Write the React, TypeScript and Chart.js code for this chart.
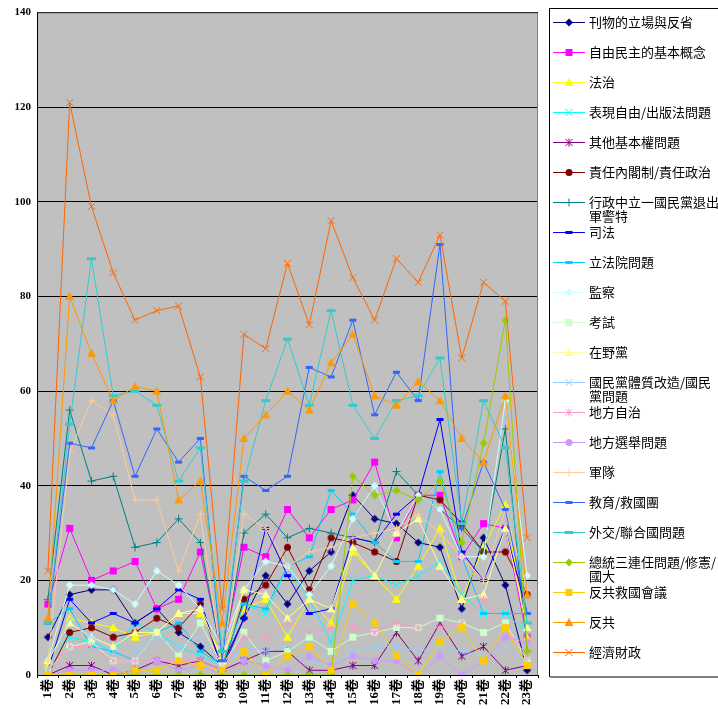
import React, { useEffect, useRef } from 'react';
import { Chart, registerables } from 'chart.js';
Chart.register(...registerables);

const categories = ['1卷','2卷','3卷','4卷','5卷','6卷','7卷','8卷','9卷','10卷','11卷','12卷','13卷','14卷','15卷','16卷','17卷','18卷','19卷','20卷','21卷','22卷','23卷'];
const yTicks = [0, 20, 40, 60, 80, 100, 120, 140];

const seriesNames = [
  '刊物的立場與反省','自由民主的基本概念','法治','表現自由/出版法問題','其他基本權問題',
  '責任內閣制/責任政治','行政中立一國民黨退出軍警特','司法','立法院問題','監察','考試','在野黨',
  '國民黨體質改造/國民黨問題','地方自治','地方選舉問題','軍隊','教育/救國團','外交/聯合國問題',
  '總統三連任問題/修憲/國大','反共救國會議','反共','經濟財政'
];
const seriesColors = [
  '#000080','#FF00FF','#FFFF00','#00FFFF','#800080','#800000','#008080','#0000FF','#00CCFF','#CCFFFF','#CCFFCC','#FFFF99',
  '#99CCFF','#FF99CC','#CC99FF','#FFCC99','#3366FF','#33CCCC','#99CC00','#FFCC00','#FF9900','#FF6600'
];
const seriesMarkers = [
  'diamond','square','triangle','x','star','circle','plus','dash','dash','diamond','square','triangle',
  'x','star','circle','plus','dash','dashWide','diamond','square','triangle','x'
];

const s01 = [8,17,18,18,11,14,9,6,2,12,21,15,22,26,38,33,32,28,27,14,29,19,1];
const s02 = [15,31,20,22,24,14,16,26,4,27,25,35,29,35,37,45,29,38,38,25,32,31,8];
const s03 = [2,12,11,10,8,9,13,13,4,14,16,8,16,11,26,21,16,23,31,16,27,36,8];
const s04 = [3,8,7,5,11,9,6,4,2,15,13,23,16,7,20,21,19,21,24,17,13,13,9];
const s05 = [0,2,2,0,1,3,2,3,1,3,5,5,1,1,2,2,9,3,11,4,6,1,2];
const s06 = [0,9,10,8,9,12,10,15,1,16,19,27,18,29,28,26,24,38,37,32,26,26,17];
const s07 = [16,56,41,42,27,28,33,28,3,30,34,29,31,30,29,28,43,38,35,31,26,52,5];
const s08 = [1,16,11,13,11,14,18,16,1,12,31,21,13,14,29,28,34,38,54,26,20,31,13];
const s09 = [11,14,6,5,3,9,11,5,2,15,14,23,25,39,34,28,24,24,43,25,13,13,13];
const s10 = [3,19,19,18,15,22,19,14,6,18,24,23,17,23,33,40,30,38,35,25,25,58,21];
const s11 = [1,6,7,3,3,9,4,11,2,9,3,5,8,5,8,9,10,10,12,11,9,11,3];
const s12 = [3,11,8,6,9,9,13,14,3,18,17,12,16,14,27,21,30,33,23,16,17,31,10];
const s13 = [1,12,8,5,5,8,6,8,1,6,5,6,3,2,5,6,6,5,6,5,4,6,3];
const s14 = [1,6,6,3,3,3,3,3,1,8,8,11,9,10,10,9,11,10,10,11,16,10,4];
const s15 = [0,1,1,1,0,3,1,2,0,3,2,1,4,2,4,3,3,0,4,0,3,8,7];
const s16 = [3,47,58,55,37,37,22,34,2,34,31,23,26,27,29,30,31,34,30,25,20,35,18];
const s17 = [11,49,48,58,42,52,45,50,3,42,39,42,65,63,75,55,64,58,91,31,45,35,13];
const s18 = [11,53,88,59,60,57,41,48,5,41,58,71,57,77,57,50,58,59,67,32,58,48,11];
const s19 = [0,0,0,0,0,0,0,0,0,0,0,0,0,0,42,38,39,37,41,28,49,75,5];
const s20 = [0,0,0,0,1,1,3,2,1,5,0,4,6,1,15,11,4,0,7,10,3,10,2];
const s21 = [12,80,68,58,61,60,37,41,11,50,55,60,56,66,72,59,57,62,58,50,45,59,17];
const s22 = [22,121,99,85,75,77,78,63,14,72,69,87,74,96,84,75,88,83,93,67,83,79,29];

const seriesData = [s01,s02,s03,s04,s05,s06,s07,s08,s09,s10,s11,s12,s13,s14,s15,s16,s17,s18,s19,s20,s21,s22];

function drawMarker(ctx: CanvasRenderingContext2D, kind: string, x: number, y: number, color: string) {
  ctx.save();
  ctx.fillStyle = color;
  ctx.strokeStyle = color;
  ctx.lineWidth = 1;
  ctx.beginPath();
  switch (kind) {
    case 'diamond':
      ctx.moveTo(x, y - 4); ctx.lineTo(x + 4, y); ctx.lineTo(x, y + 4); ctx.lineTo(x - 4, y); ctx.closePath(); ctx.fill();
      break;
    case 'square':
      ctx.fillRect(x - 3.5, y - 3.5, 7, 7);
      break;
    case 'triangle':
      ctx.moveTo(x, y - 4.5); ctx.lineTo(x + 4.5, y + 3.5); ctx.lineTo(x - 4.5, y + 3.5); ctx.closePath(); ctx.fill();
      break;
    case 'x':
      ctx.moveTo(x - 3.5, y - 3.5); ctx.lineTo(x + 3.5, y + 3.5); ctx.moveTo(x + 3.5, y - 3.5); ctx.lineTo(x - 3.5, y + 3.5); ctx.stroke();
      break;
    case 'star':
      ctx.moveTo(x - 3.5, y - 3.5); ctx.lineTo(x + 3.5, y + 3.5); ctx.moveTo(x + 3.5, y - 3.5); ctx.lineTo(x - 3.5, y + 3.5);
      ctx.moveTo(x, y - 4); ctx.lineTo(x, y + 4); ctx.stroke();
      break;
    case 'circle':
      ctx.arc(x, y, 3.5, 0, Math.PI * 2); ctx.fill();
      break;
    case 'plus':
      ctx.moveTo(x - 4, y); ctx.lineTo(x + 4, y); ctx.moveTo(x, y - 4); ctx.lineTo(x, y + 4); ctx.stroke();
      break;
    case 'dash':
      ctx.fillRect(x - 3.5, y - 1.5, 7, 3);
      break;
    case 'dashWide':
      ctx.fillRect(x - 4.5, y - 1.5, 9, 3);
      break;
  }
  ctx.restore();
}

function makeMarkerCanvas(kind: string, color: string): HTMLCanvasElement {
  const c = document.createElement('canvas');
  c.width = 11; c.height = 11;
  const ctx = c.getContext('2d')!;
  drawMarker(ctx, kind, 5.5, 5.5, color);
  return c;
}

const plotBgPlugin = {
  id: 'plotBg',
  beforeDraw(chart: any) {
    const { ctx, chartArea: a } = chart;
    ctx.save();
    ctx.fillStyle = '#C0C0C0';
    ctx.fillRect(a.left, a.top, a.right - a.left, a.bottom - a.top);
    ctx.restore();
  },
  afterDatasetsDraw(chart: any) {
    const { ctx, chartArea: a } = chart;
    ctx.save();
    ctx.strokeStyle = '#808080';
    ctx.lineWidth = 1;
    ctx.beginPath();
    ctx.moveTo(a.left, a.top + 0.5); ctx.lineTo(a.right - 0.5, a.top + 0.5); ctx.lineTo(a.right - 0.5, a.bottom);
    ctx.stroke();
    ctx.strokeStyle = '#000';
    ctx.beginPath();
    ctx.moveTo(a.left + 0.5, a.top); ctx.lineTo(a.left + 0.5, a.bottom + 0.5); ctx.lineTo(a.right, a.bottom + 0.5);
    ctx.stroke();
    ctx.restore();
  }
};

const legendPlugin = {
  id: 'boxLegend',
  afterDraw(chart: any) {
    const ctx: CanvasRenderingContext2D = chart.ctx;
    ctx.save();
    const bx = 549, by = 8, bw = 180, bh = 668;
    ctx.fillStyle = '#FFFFFF';
    ctx.fillRect(bx, by, bw, bh);
    ctx.strokeStyle = '#000';
    ctx.lineWidth = 1;
    ctx.strokeRect(bx + 0.5, by + 0.5, bw, bh);
    ctx.strokeStyle = '#808080';
    ctx.lineWidth = 2;
    ctx.beginPath(); ctx.moveTo(bx + 1, by + bh + 1); ctx.lineTo(bx + bw, by + bh + 1); ctx.stroke();
    ctx.font = '13px "Noto Sans CJK TC", sans-serif';
    ctx.textBaseline = 'middle';
    ctx.textAlign = 'left';
    const maxW = 131;
    seriesNames.forEach((name, i) => {
      const cy = 21.7 + 30 * i;
      ctx.strokeStyle = seriesColors[i];
      ctx.lineWidth = 1;
      ctx.beginPath(); ctx.moveTo(553, Math.round(cy) + 0.5); ctx.lineTo(585, Math.round(cy) + 0.5); ctx.stroke();
      drawMarker(ctx, seriesMarkers[i], 569, Math.round(cy) + 0.5, seriesColors[i]);
      const lines: string[] = [];
      let cur = '';
      for (const ch of Array.from(name)) {
        if (ctx.measureText(cur + ch).width > maxW && cur) { lines.push(cur); cur = ch; } else cur += ch;
      }
      if (cur) lines.push(cur);
      ctx.fillStyle = '#000';
      lines.forEach((ln, k) => ctx.fillText(ln, 589, cy + k * 14.5));
    });
    ctx.restore();
  }
};

export default function App() {
  const ref = useRef<HTMLCanvasElement | null>(null);
  useEffect(() => {
    if (!ref.current) return;
    const datasets = seriesNames.map((name, i) => ({
      label: name,
      data: seriesData[i],
      borderColor: seriesColors[i],
      backgroundColor: seriesColors[i],
      borderWidth: 1,
      pointStyle: makeMarkerCanvas(seriesMarkers[i], seriesColors[i]) as any,
      pointRadius: 4,
      tension: 0,
      order: seriesNames.length - 1 - i,
    }));
    const chart = new Chart(ref.current, {
      type: 'line',
      data: { labels: categories, datasets },
      options: {
        animation: false,
        responsive: false,
        maintainAspectRatio: false,
        layout: { padding: { left: 0, top: 11, right: 180, bottom: 0 } },
        plugins: { legend: { display: false }, tooltip: { enabled: false } },
        scales: {
          x: {
            type: 'category',
            offset: true,
            grid: { display: true, drawOnChartArea: false, drawTicks: true, tickLength: 3, color: '#000', offset: true },
            border: { display: true, color: '#000' },
            ticks: {
              minRotation: 90, maxRotation: 90, autoSkip: false, padding: 1, color: '#000',
              font: { family: '"Liberation Serif", "Noto Sans CJK TC", serif', size: 13, weight: 'bold' as any },
            },
            afterFit: (s: any) => { s.height = 34; },
          },
          y: {
            min: 0, max: 140,
            afterBuildTicks: (s: any) => { s.ticks = yTicks.map((v) => ({ value: v })); },
            grid: { color: '#000', lineWidth: 1, drawTicks: false },
            border: { display: true, color: '#000' },
            ticks: {
              padding: 6, color: '#000',
              font: { family: '"Liberation Serif", serif', size: 11, weight: 'bold' as any },
            },
            afterFit: (s: any) => { s.width = 37; },
          },
        },
      },
      plugins: [plotBgPlugin, legendPlugin],
    });
    return () => chart.destroy();
  }, []);
  return (
    <div style={{ position: 'absolute', left: 0, top: 0, width: 718, height: 709, background: '#fff' }}>
      <canvas ref={ref} width={718} height={709} style={{ width: 718, height: 709, display: 'block' }} />
    </div>
  );
}
